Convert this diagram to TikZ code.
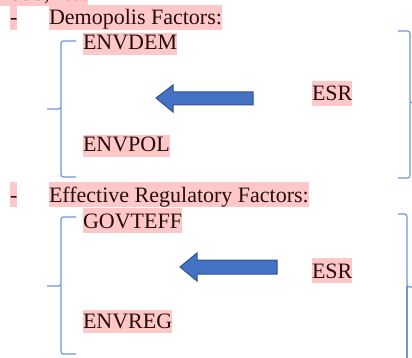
\documentclass[tikz,border=0pt]{standalone}
\usepackage{fontspec}
\setmainfont{Liberation Serif}
\definecolor{hl}{RGB}{255,200,200}
\definecolor{ink}{RGB}{40,12,12}
\definecolor{arrfill}{RGB}{68,114,196}
\definecolor{arrline}{RGB}{47,82,143}
\definecolor{bracecol}{RGB}{110,150,215}
\begin{document}
\begin{tikzpicture}[x=1pt,y=-1pt,
  hltext/.style={fill=hl,text=ink,inner sep=0pt,outer sep=0pt,anchor=base west,
    font=\fontsize{22}{26}\selectfont,text height=20pt,text depth=5pt},
  bracestyle/.style={draw=bracecol,line width=1.2pt,rounded corners=2.5pt},
  bigarrow/.style={fill=arrfill,draw=arrline,line width=1pt,line join=miter}]
\useasboundingbox (0,0) rectangle (412,358);
\clip (0,0) rectangle (412,358);
% top cut-off line
\node[hltext] (prev) at (0,1) {1995, n.d.};
% section 1
\node[hltext] (dash1) at (10,25) {-};
\node[hltext] (head1) at (49,25) {Demopolis Factors:};
\node[hltext,text height=17pt] (envdem) at (83,50) {ENVDEM};
\node[hltext,text height=17pt] (envpol) at (83,152) {ENVPOL};
\node[hltext] (esr1) at (312,101) {ESR};
% left brace 1
\draw[bracestyle] (76,41) -- (61,41) -- (61,109) -- (47,109);
\draw[bracestyle] (61,108) -- (61,177) -- (76,177);
% right brace 1
\draw[bracestyle] (398,31) -- (410,31) -- (410,103) -- (416,103);
\draw[bracestyle] (410,102) -- (410,178) -- (398,178);
% arrow 1
\draw[bigarrow] (156,98) -- (173,85) -- (173,92) -- (253,92) -- (253,105) -- (173,105) -- (173,112) -- cycle;
% section 2
\node[hltext] (dash2) at (10,202) {-};
\node[hltext] (head2) at (49,202) {Effective Regulatory Factors:};
\node[hltext,text height=20pt] (govteff) at (83,228) {GOVTEFF};
\node[hltext,text height=18pt] (envreg) at (83,328) {ENVREG};
\node[hltext] (esr2) at (312,278) {ESR};
% left brace 2
\draw[bracestyle] (76,217) -- (61,217) -- (61,286) -- (47,286);
\draw[bracestyle] (61,285) -- (61,354) -- (76,354);
% right brace 2
\draw[bracestyle] (398,214) -- (407,214) -- (407,287) -- (414,287);
\draw[bracestyle] (407,286) -- (407,370);
% arrow 2
\draw[bigarrow] (180,267) -- (197,253) -- (197,260) -- (277,260) -- (277,274) -- (197,274) -- (197,281) -- cycle;
\end{tikzpicture}
\end{document}
